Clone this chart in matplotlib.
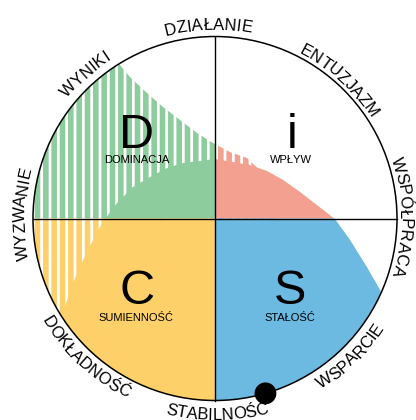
import numpy as np
import matplotlib
matplotlib.use('Agg')
import matplotlib.pyplot as plt
from matplotlib.patches import Circle, Wedge, PathPatch
from matplotlib.path import Path
from matplotlib.textpath import TextToPath
from matplotlib.font_manager import FontProperties

# ---------------- DATA ----------------
# quadrants: letter, name, colour, angular span (deg)
QUAD_LETTERS = ['D', 'i', 'S', 'C']
QUAD_NAMES = ['DOMINACJA', 'WPŁYW', 'STAŁOŚĆ', 'SUMIENNOŚĆ']
QUAD_COLORS = ['#8dcc9c', '#f4a090', '#6cb9e1', '#fed06a']
QUAD_SPANS = [(90, 180), (0, 90), (270, 360), (180, 270)]
LETTER_XY = [(-0.429, 0.387), (0.423, 0.387), (0.412, -0.470), (-0.429, -0.470)]
NAME_XY = [(-0.429, 0.307), (0.418, 0.307), (0.409, -0.563), (-0.434, -0.563)]

# outer labels: text, centre angle (deg), baseline radius, reading direction
OUTER_LABELS = ['DZIAŁANIE', 'ENTUZJAZM', 'WSPÓŁPRACA', 'WSPARCIE',
                'STABILNOŚĆ', 'DOKŁADNOŚĆ', 'WYZWANIE', 'WYNIKI']
OUTER_ANGLES = [92, 48, 0.5, -45.5, -89.4, -133, 178.5, 132]
OUTER_RADII = [1.038, 1.018, 1.018, 1.105, 1.108, 1.100, 1.044, 1.047]
OUTER_CLOCKWISE = [True, True, True, False, False, False, True, True]

# outline of the solid priority area (circle radius = 1)
SOLID_X = [-0.89, -0.835, -0.780, -0.725, -0.648, -0.604, -0.538, -0.451,
           -0.357, -0.264, -0.176, -0.082, 0.0, 0.099, 0.192, 0.286, 0.374,
           0.467, 0.560, 0.659, 0.742, 0.835, 0.907, 1.0, 1.3, 1.3, -1.3, -1.1]
SOLID_Y = [-0.673, -0.514, -0.354, -0.228, -0.074, -0.003, 0.085, 0.173,
           0.228, 0.277, 0.305, 0.316, 0.327, 0.310, 0.294, 0.261, 0.212,
           0.146, 0.074, -0.003, -0.118, -0.267, -0.393, -0.55, -0.8, -1.3,
           -1.3, -0.8]

# outline of the striped area
STRIPE_X = [-1.3, -0.65, -0.577, -0.522, -0.467, -0.374, -0.286, -0.192,
            -0.099, -0.011, 0.082, 0.176, 0.302, 0.4, 0.4, -1.3]
STRIPE_Y = [1.3, 1.05, 0.915, 0.843, 0.777, 0.690, 0.613, 0.541, 0.470,
            0.415, 0.365, 0.332, 0.212, -0.5, -1.3, -1.3]

DOT_ANGLE = -73.9   # deg
DOT_R = 0.06

# ---------------- FIGURE ----------------
DPI = 100
PX_PER_UNIT = 182.0
plt.rcParams['hatch.linewidth'] = 4.0
fig = plt.figure(figsize=(4.16, 4.2), dpi=DPI)
ax = fig.add_axes([0, 0, 1, 1])
ax.set_xlim(-215 / PX_PER_UNIT, (416 - 215) / PX_PER_UNIT)
ax.set_ylim((218.5 - 420) / PX_PER_UNIT, 218.5 / PX_PER_UNIT)
ax.axis('off')

FONT = 'Liberation Sans'

solid_path = Path(np.column_stack([SOLID_X, SOLID_Y]), closed=False)
stripe_path = Path(np.column_stack([STRIPE_X, STRIPE_Y]), closed=False)

# stripes + solid fill, each clipped to its quadrant
for col, (t1, t2) in zip(QUAD_COLORS, QUAD_SPANS):
    clip = Wedge((0, 0), 1, t1, t2, transform=ax.transData)
    st = PathPatch(stripe_path, facecolor='white', edgecolor=col,
                   hatch='||', linewidth=0, zorder=1)
    ax.add_patch(st)
    st.set_clip_path(clip)
    so = PathPatch(solid_path, facecolor=col, edgecolor='none',
                   linewidth=0, zorder=2)
    ax.add_patch(so)
    so.set_clip_path(clip)

# circle and cross
ax.add_patch(Circle((0, 0), 1, facecolor='none', edgecolor='black',
                    linewidth=1.1, zorder=4))
ax.plot([0, 0], [-1, 1], color='black', linewidth=1.0, zorder=4)
ax.plot([-1, 1], [0, 0], color='black', linewidth=1.0, zorder=4)

# dot
a = np.deg2rad(DOT_ANGLE)
ax.add_patch(Circle((np.cos(a), np.sin(a)), DOT_R, facecolor='black',
                    edgecolor='none', zorder=5))

# quadrant letters and names
for let, name, (lx, ly), (nx, ny) in zip(QUAD_LETTERS, QUAD_NAMES,
                                         LETTER_XY, NAME_XY):
    ax.text(lx, ly, let, fontsize=35, family=FONT, ha='center',
            va='baseline', zorder=6)
    ax.text(nx, ny, name, fontsize=8, family=FONT, ha='center',
            va='baseline', zorder=6)

# curved outer labels
ttp = TextToPath()
fp = FontProperties(family=FONT, size=12)


def char_width(ch):
    w, h, d = ttp.get_text_width_height_descent(ch, fp, ismath=False)
    return w * DPI / 72.0 / PX_PER_UNIT


for label, ang, rb, cw in zip(OUTER_LABELS, OUTER_ANGLES, OUTER_RADII,
                              OUTER_CLOCKWISE):
    widths = [char_width(c) for c in label]
    total = sum(widths) / rb
    c0 = np.deg2rad(ang)
    cum = 0.0
    for ch, w in zip(label, widths):
        off = (cum + w / 2) / rb
        if cw:
            th = c0 + total / 2 - off
            rot = np.rad2deg(th) - 90
        else:
            th = c0 - total / 2 + off
            rot = np.rad2deg(th) + 90
        ax.text(rb * np.cos(th), rb * np.sin(th), ch, fontproperties=fp,
                rotation=rot, rotation_mode='anchor', ha='center',
                va='baseline', zorder=6)
        cum += w

fig.savefig('out.png', dpi=DPI)
